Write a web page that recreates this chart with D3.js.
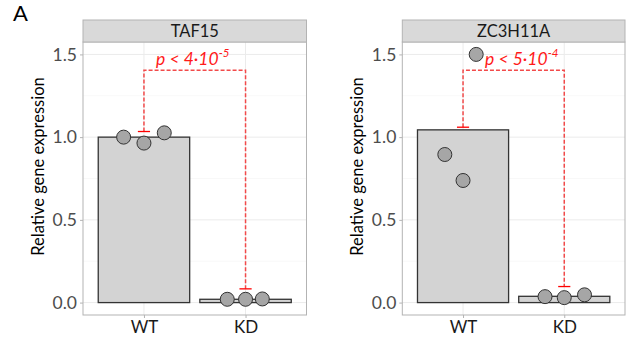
<!DOCTYPE html>
<meta charset="utf-8">
<script src="https://d3js.org/d3.v7.js"></script>
<style>
  body { margin: 0; background: #fff; }
  text { font-family: Lato, "DejaVu Sans", sans-serif; }
</style>
<div id="chart"></div>
<script>
// data
const genes = ["TAF15", "ZC3H11A"];
const groups = ["WT", "KD"];
// bar heights (mean) per gene: [WT, KD]
const barMeans = [[1.0, 0.02], [1.044, 0.038]];
// replicate points per gene and group
const pointVals = [
  [[1.0, 0.964, 1.026], [0.02, 0.02, 0.022]],
  [[0.895, 0.738, 1.5], [0.036, 0.03, 0.047]]
];
// horizontal dodge of the points, in category steps
const pointDodge = [
  [[-0.2, 0, 0.2], [-0.18, 0, 0.165]],
  [[-0.18, 0, 0.13], [-0.19, 0, 0.2]]
];
const pLabels = [["4", "-5"], ["5", "-4"]];
const labelX = [1.48, 1.58];        // label centre, in category units
const bracketTop = [1.405, 1.405];
const bracketEnds = [[1.034, 0.083], [1.06, 0.097]];
const yTicks = [0, 0.5, 1.0, 1.5];
const yMinor = [0.25, 0.75, 1.25];

const W = 630, H = 338;
const svg = d3.select("#chart").append("svg")
  .attr("width", W).attr("height", H);

svg.append("text").attr("x", 13).attr("y", 21)
  .attr("font-size", 22).attr("fill", "#000").text("A");

const panels = [{left: 83, right: 306.5}, {left: 402.3, right: 625}];
const stripTop = 20, stripBot = 42, panelBot = 315;

const y = d3.scaleLinear().domain([-0.075, 1.575]).range([panelBot, stripBot]);

panels.forEach(function(p, i) {
  const x = d3.scalePoint().domain(groups).range([p.left, p.right]).padding(0.6);
  const step = x.step();
  const g = svg.append("g");

  // grid
  g.selectAll(".minor").data(yMinor).enter().append("line")
    .attr("x1", p.left).attr("x2", p.right)
    .attr("y1", d => y(d)).attr("y2", d => y(d))
    .attr("stroke", "#f4f4f4").attr("stroke-width", 0.6);
  g.selectAll(".major").data(yTicks).enter().append("line")
    .attr("x1", p.left).attr("x2", p.right)
    .attr("y1", d => y(d)).attr("y2", d => y(d))
    .attr("stroke", "#ebebeb").attr("stroke-width", 1);
  g.selectAll(".vmajor").data(groups).enter().append("line")
    .attr("x1", d => x(d)).attr("x2", d => x(d))
    .attr("y1", stripBot).attr("y2", panelBot)
    .attr("stroke", "#ebebeb").attr("stroke-width", 1);

  // bars
  g.selectAll(".bar").data(groups).enter().append("rect")
    .attr("x", d => x(d) - 0.45 * step)
    .attr("width", 0.9 * step)
    .attr("y", (d, j) => y(barMeans[i][j]))
    .attr("height", (d, j) => y(0) - y(barMeans[i][j]))
    .attr("fill", "#d3d3d3").attr("stroke", "#333").attr("stroke-width", 1.3);

  // significance bracket
  const xa = x("WT"), xb = x("KD");
  const path = d3.path();
  path.moveTo(xa, y(bracketEnds[i][0]));
  path.lineTo(xa, y(bracketTop[i]));
  path.lineTo(xb, y(bracketTop[i]));
  path.lineTo(xb, y(bracketEnds[i][1]));
  g.append("path").attr("d", path.toString())
    .attr("fill", "none").attr("stroke", "#f24a4a").attr("stroke-width", 1.5)
    .attr("stroke-dasharray", "4,2");
  [xa, xb].forEach(function(xx, k) {
    g.append("line")
      .attr("x1", xx - 0.06 * step).attr("x2", xx + 0.06 * step)
      .attr("y1", y(bracketEnds[i][k])).attr("y2", y(bracketEnds[i][k]))
      .attr("stroke", "#ff0000").attr("stroke-width", 1.3);
  });

  const lab = g.append("text")
    .attr("x", x("WT") + (labelX[i] - 1) * step).attr("y", 65)
    .attr("text-anchor", "middle").attr("font-size", 17.5)
    .attr("font-style", "italic").attr("fill", "#ff1a1a");
  lab.append("tspan").text("p < " + pLabels[i][0] + "\u00b710");
  lab.append("tspan").attr("font-size", 11.5).attr("dy", -8).text(pLabels[i][1]);

  // points
  const pts = [];
  groups.forEach(function(gr, j) {
    pointVals[i][j].forEach(function(v, k) {
      pts.push({x: x(gr) + pointDodge[i][j][k] * step, v: v});
    });
  });
  g.selectAll(".pt").data(pts).enter().append("circle")
    .attr("cx", d => d.x).attr("cy", d => y(d.v)).attr("r", 7)
    .attr("fill", "#a6a6a6").attr("stroke", "#333").attr("stroke-width", 1);

  // panel border
  g.append("rect").attr("x", p.left).attr("y", stripBot)
    .attr("width", p.right - p.left).attr("height", panelBot - stripBot)
    .attr("fill", "none").attr("stroke", "#b3b3b3").attr("stroke-width", 1);

  // strip
  g.append("rect").attr("x", p.left).attr("y", stripTop)
    .attr("width", p.right - p.left).attr("height", stripBot - stripTop)
    .attr("fill", "#d9d9d9").attr("stroke", "#b3b3b3").attr("stroke-width", 1);
  g.append("text").attr("x", (p.left + p.right) / 2).attr("y", 37)
    .attr("text-anchor", "middle").attr("font-size", 16.5).attr("fill", "#1a1a1a")
    .text(genes[i]);

  // axes
  const ya = g.append("g").attr("transform", `translate(${p.left},0)`)
    .call(d3.axisLeft(y).tickValues(yTicks).tickFormat(d3.format(".1f")).tickSize(3).tickPadding(3));
  ya.select(".domain").remove();
  ya.selectAll("line").attr("stroke", "#b3b3b3");
  ya.selectAll("text").attr("font-size", 17.5).attr("fill", "#4d4d4d").attr("font-family", "Lato");

  const xa2 = g.append("g").attr("transform", `translate(0,${panelBot})`)
    .call(d3.axisBottom(x).tickSize(3).tickPadding(3));
  xa2.select(".domain").remove();
  xa2.selectAll("line").attr("stroke", "#b3b3b3");
  xa2.selectAll("text").attr("font-size", 17).attr("fill", "#1a1a1a").attr("font-family", "Lato");

  g.append("text")
    .attr("transform", `translate(${p.left - 39},${(stripTop + panelBot) / 2 - 1}) rotate(-90)`)
    .attr("text-anchor", "middle").attr("font-size", 16.5).attr("fill", "#000")
    .text("Relative gene expression");
});
</script>
